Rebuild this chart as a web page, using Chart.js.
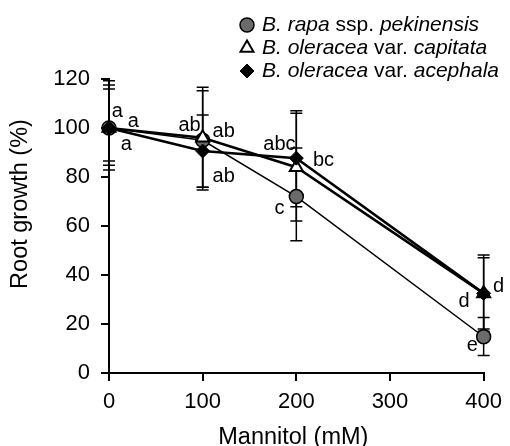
<!DOCTYPE html>
<html><head><meta charset="utf-8">
<script src="https://cdn.jsdelivr.net/npm/chart.js@4/dist/chart.umd.min.js"></script>
<style>html,body{margin:0;padding:0;background:#fff}#wrap{width:510px;height:446px;position:relative}</style>
</head><body><div id="wrap"><canvas id="c"></canvas></div>
<script>
// ---- data ----
const concentrations = [0, 100, 200, 400];
const xTicks = [0, 100, 200, 300, 400];
const yTicks = [0, 20, 40, 60, 80, 100, 120];

const rapaMean      = [100, 95, 72, 14.8];
const rapaErrUp     = [17.6, 20.2, 19.8, 7.9];
const rapaErrDown   = [15.2, 20.3, 18.0, 7.7];

const capitataMean    = [100, 96, 84, 32.5];
const capitataErrUp   = [19.3, 20.6, 22.0, 15.7];
const capitataErrDown = [17.1, 20.2, 22.0, 15.5];

const acephalaMean    = [100, 90.6, 87.7, 32.5];
const acephalaErrUp   = [15.9, 14.7, 19.3, 14.5];
const acephalaErrDown = [13.5, 14.8, 19.8, 14.5];

const letterText = ['a', 'a', 'a', 'ab', 'ab', 'ab', 'abc', 'bc', 'c', 'd', 'd', 'e'];
const letterX    = [9, 26, 18.5, 86, 122.5, 122.5, 182, 229, 182, 416, 379, 388];
const letterY    = [106.6, 102.6, 93, 101.9, 99.2, 80.8, 93.8, 87.6, 67.2, 35.9, 29.8, 11];

const legendRapa     = [['B. rapa', true], [' ssp. ', false], ['pekinensis', true]];
const legendCapitata = [['B. oleracea', true], [' var. ', false], ['capitata', true]];
const legendAcephala = [['B. oleracea', true], [' var. ', false], ['acephala', true]];

const xTitle = 'Mannitol (mM)';
const yTitle = 'Root growth (%)';

// ---- chart ----
const FONT = "'Liberation Sans', Arial, sans-serif";
const toPts = (mean) => concentrations.map((x, i) => ({x: x, y: mean[i]}));

const series = [
  {label: 'rapa', data: toPts(rapaMean), up: rapaErrUp, down: rapaErrDown, legend: legendRapa,
   borderColor: '#000', borderWidth: 1.5, pointStyle: 'circle', pointRadius: 7,
   pointBackgroundColor: '#6b6b6b', pointBorderColor: '#000', pointBorderWidth: 1.5, order: 3},
  {label: 'capitata', data: toPts(capitataMean), up: capitataErrUp, down: capitataErrDown, legend: legendCapitata,
   borderColor: '#000', borderWidth: 2.5, pointStyle: 'triangle', pointRadius: 7.5,
   pointBackgroundColor: '#fff', pointBorderColor: '#000', pointBorderWidth: 2, order: 2},
  {label: 'acephala', data: toPts(acephalaMean), up: acephalaErrUp, down: acephalaErrDown, legend: legendAcephala,
   borderColor: '#000', borderWidth: 2.5, pointStyle: 'rectRot', pointRadius: 7,
   pointBackgroundColor: '#000', pointBorderColor: '#000', pointBorderWidth: 1, order: 1}
];

const errorBars = {
  id: 'errorBars',
  beforeDatasetsDraw(chart) {
    const ctx = chart.ctx, xs = chart.scales.x, ys = chart.scales.y;
    ctx.save();
    ctx.strokeStyle = '#000';
    ctx.lineWidth = 1.5;
    const cap = 6;
    chart.data.datasets.forEach(ds => {
      ds.data.forEach((p, i) => {
        const px = xs.getPixelForValue(p.x);
        const top = ys.getPixelForValue(p.y + ds.up[i]);
        const bot = ys.getPixelForValue(p.y - ds.down[i]);
        ctx.beginPath();
        ctx.moveTo(px, top); ctx.lineTo(px, bot);
        ctx.moveTo(px - cap, top); ctx.lineTo(px + cap, top);
        ctx.moveTo(px - cap, bot); ctx.lineTo(px + cap, bot);
        ctx.stroke();
      });
    });
    ctx.restore();
  }
};

function drawMarker(ctx, style, r, x, y) {
  if (style === 'circle') { ctx.arc(x, y, r, 0, Math.PI * 2); }
  else if (style === 'triangle') {
    for (let j = 0; j < 3; j++) {
      const a = j * 2 * Math.PI / 3;
      const px = x + Math.sin(a) * r, py = y - Math.cos(a) * r;
      j ? ctx.lineTo(px, py) : ctx.moveTo(px, py);
    }
    ctx.closePath();
  } else {
    ctx.moveTo(x, y - r); ctx.lineTo(x + r, y); ctx.lineTo(x, y + r); ctx.lineTo(x - r, y); ctx.closePath();
  }
}

const extras = {
  id: 'extras',
  afterDraw(chart) {
    const ctx = chart.ctx, xs = chart.scales.x, ys = chart.scales.y;
    ctx.save();
    ctx.fillStyle = '#000';
    // significance letters
    ctx.font = '20px ' + FONT;
    ctx.textAlign = 'center';
    ctx.textBaseline = 'alphabetic';
    letterText.forEach((t, i) => {
      const px = xs.getPixelForValue(letterX[i]);
      const py = ys.getPixelForValue(letterY[i]);
      const off = /[bdfhklt]/.test(t) ? 7.2 : 5.2;
      ctx.fillText(t, px, py + off);
    });
    // axis titles
    ctx.font = '23.5px ' + FONT;
    ctx.textBaseline = 'middle';
    ctx.fillText(xTitle, (chart.chartArea.left + chart.chartArea.right) / 2 - 3, 438);
    ctx.save();
    ctx.translate(21, 204);
    ctx.rotate(-Math.PI / 2);
    ctx.fillText(yTitle, 0, 0);
    ctx.restore();
    // legend
    const legX = 247, textX = 262, rowY = [25, 48, 71];
    chart.data.datasets.forEach((ds, k) => {
      const y = rowY[k];
      ctx.fillStyle = ds.pointBackgroundColor;
      ctx.strokeStyle = ds.pointBorderColor;
      ctx.lineWidth = ds.pointBorderWidth;
      ctx.beginPath();
      drawMarker(ctx, ds.pointStyle, ds.pointRadius, legX, y);
      ctx.fill(); ctx.stroke();
      ctx.fillStyle = '#000';
      ctx.textAlign = 'left';
      ctx.textBaseline = 'middle';
      let x = textX;
      ds.legend.forEach(([s, it]) => {
        ctx.font = (it ? 'italic ' : '') + '21px ' + FONT;
        ctx.fillText(s, x, y);
        x += ctx.measureText(s).width;
      });
    });
    ctx.restore();
  }
};

const axisCommon = {
  type: 'linear',
  grid: {display: true, drawOnChartArea: false, drawTicks: true, tickLength: 8, color: '#000', lineWidth: 2},
  border: {display: true, color: '#000', width: 2},
  ticks: {color: '#000', font: {family: FONT, size: 22}}
};

new Chart(document.getElementById('c'), {
  type: 'scatter',
  data: {datasets: series.map(s => Object.assign({showLine: true, clip: false, fill: false}, s))},
  options: {
    responsive: true,
    maintainAspectRatio: false,
    animation: false,
    layout: {padding: {top: 79, right: 20, left: 0, bottom: 0}},
    plugins: {legend: {display: false}, tooltip: {enabled: false}},
    scales: {
      x: Object.assign({}, axisCommon, {
        min: 0, max: 400,
        ticks: Object.assign({}, axisCommon.ticks, {padding: 8}),
        afterBuildTicks: s => { s.ticks = xTicks.map(v => ({value: v})); },
        afterFit: s => { s.height = 73; }
      }),
      y: Object.assign({}, axisCommon, {
        min: 0, max: 120,
        ticks: Object.assign({}, axisCommon.ticks, {padding: 11}),
        afterBuildTicks: s => { s.ticks = yTicks.map(v => ({value: v})); },
        afterFit: s => { s.width = 109; }
      })
    }
  },
  plugins: [errorBars, extras]
});
</script>
</body></html>
